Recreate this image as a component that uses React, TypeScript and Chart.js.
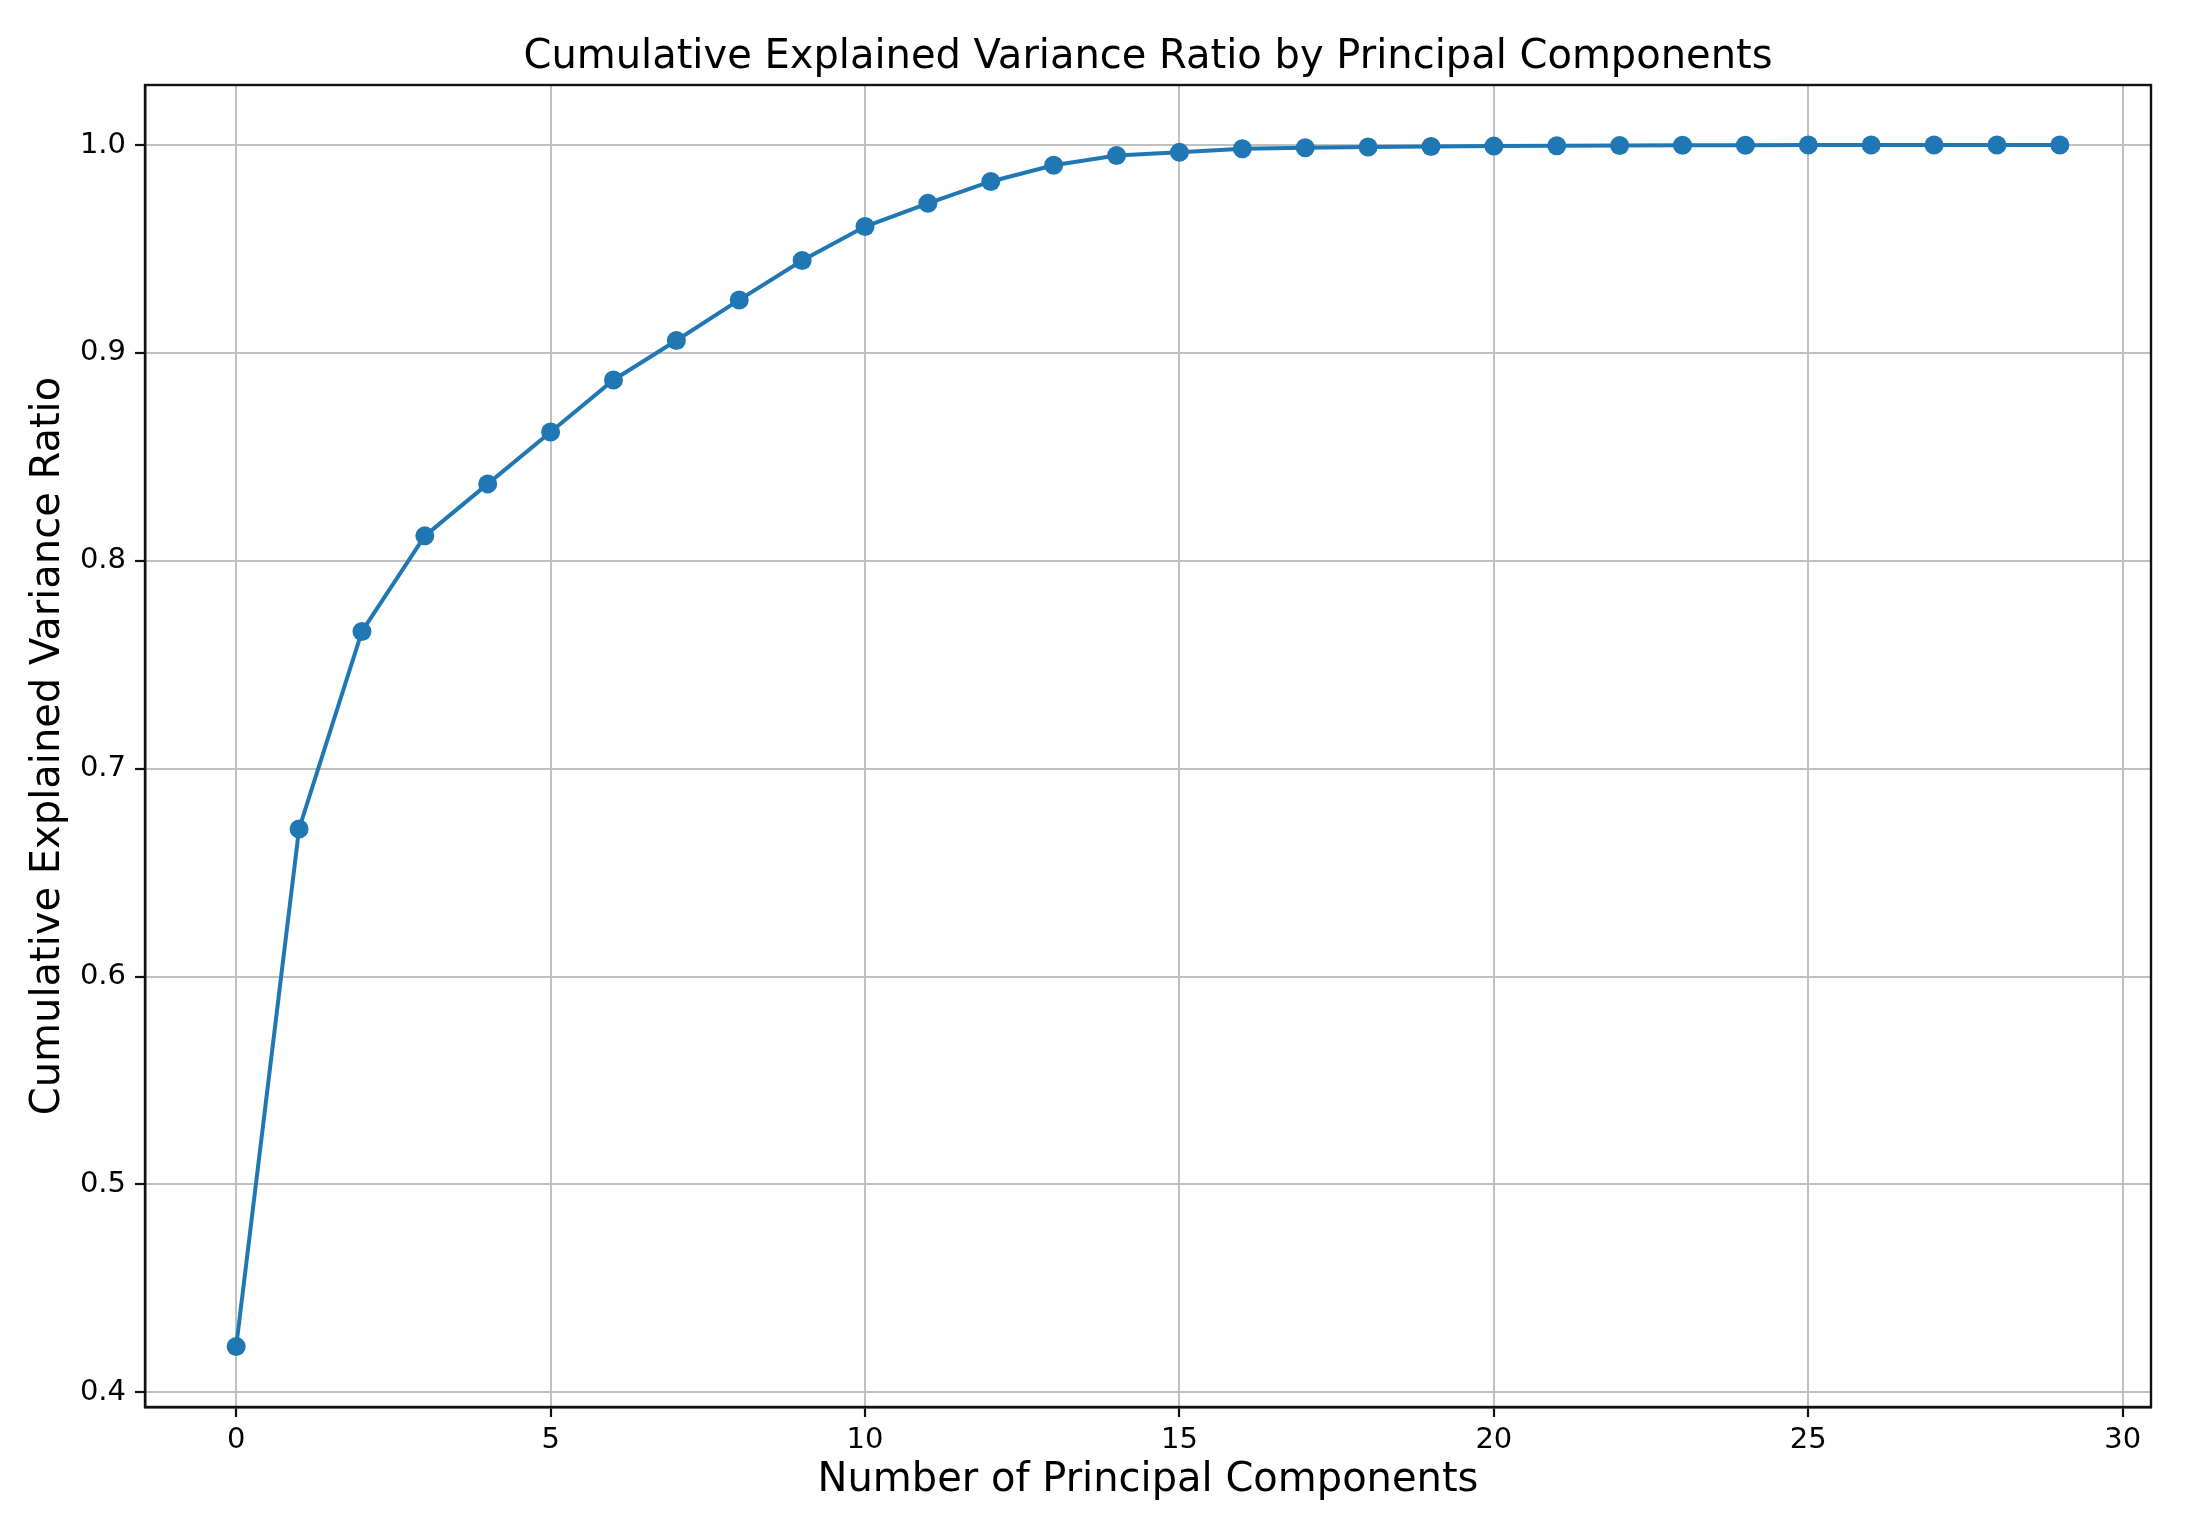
import React, { useEffect, useRef } from "react";
import { Chart, registerables } from "chart.js";

Chart.register(...registerables);

const components: number[] = [0, 1, 2, 3, 4, 5, 6, 7, 8, 9, 10, 11, 12, 13, 14, 15, 16, 17, 18, 19, 20, 21, 22, 23, 24, 25, 26, 27, 28, 29];
const cumulativeVariance: number[] = [
  0.422, 0.671, 0.766, 0.812, 0.837, 0.862, 0.887, 0.906, 0.9255, 0.9445,
  0.9608, 0.972, 0.9825, 0.9903, 0.995, 0.9965, 0.9982, 0.9987, 0.9991, 0.9993,
  0.9995, 0.9997, 0.9998, 0.9999, 0.9999, 1.0, 1.0, 1.0, 1.0, 1.0,
];
const xTicks: number[] = [0, 5, 10, 15, 20, 25, 30];
const yTicks: number[] = [0.4, 0.5, 0.6, 0.7, 0.8, 0.9, 1.0];

const titleText = "Cumulative Explained Variance Ratio by Principal Components";
const xTitle = "Number of Principal Components";
const yTitle = "Cumulative Explained Variance Ratio";

const FONT = "'DejaVu Sans', 'Liberation Sans', sans-serif";

const frame = {
  id: "frame",
  afterDraw(chart: any) {
    const { ctx, chartArea } = chart;
    ctx.save();
    ctx.strokeStyle = "#111";
    ctx.lineWidth = 2.4;
    ctx.strokeRect(chartArea.left, chartArea.top, chartArea.right - chartArea.left, chartArea.bottom - chartArea.top);
    // title centred over the plot area
    ctx.fillStyle = "#000";
    ctx.font = `40px ${FONT}`;
    ctx.textAlign = "center";
    ctx.textBaseline = "alphabetic";
    ctx.fillText(titleText, (chartArea.left + chartArea.right) / 2, chartArea.top - 17);
    ctx.restore();
  },
};

export default function App() {
  const ref = useRef<HTMLCanvasElement | null>(null);

  useEffect(() => {
    if (!ref.current) return;
    Chart.defaults.color = "#000";
    const chart = new Chart(ref.current, {
      type: "line",
      data: {
        datasets: [
          {
            data: components.map((c, i) => ({ x: c, y: cumulativeVariance[i] })),
            borderColor: "#1f77b4",
            backgroundColor: "#1f77b4",
            borderWidth: 4,
            pointRadius: 9.5,
            pointHoverRadius: 9.5,
            pointBorderWidth: 0,
            pointBackgroundColor: "#1f77b4",
            tension: 0,
            fill: false,
          },
        ],
      },
      options: {
        animation: false,
        responsive: true,
        maintainAspectRatio: false,
        layout: { padding: { left: 0, right: 35, top: 85, bottom: 0 } },
        plugins: {
          legend: { display: false },
          tooltip: { enabled: false },
          title: { display: false },
        },
        scales: {
          x: {
            type: "linear",
            min: -1.45,
            max: 30.45,
            afterBuildTicks: (s: any) => {
              s.ticks = xTicks.map((v) => ({ value: v }));
            },
            afterFit: (s: any) => {
              s.height = 113;
            },
            ticks: {
              color: "#000",
              font: { family: FONT, size: 29 },
              padding: 6,
              maxRotation: 0,
              autoSkip: false,
              callback: (v: any) => String(v),
            },
            grid: {
              color: "#c0c0c0",
              lineWidth: 2,
              drawTicks: true,
              tickLength: 10,
              tickColor: "#111",
              tickWidth: 2.2,
            },
            border: { display: true, color: "#111", width: 2.4 },
            title: {
              display: true,
              text: xTitle,
              color: "#000",
              font: { family: FONT, size: 40, lineHeight: 1.2 },
              padding: { top: 0, bottom: 15 },
            },
          },
          y: {
            type: "linear",
            min: 0.3929,
            max: 1.0289,
            afterBuildTicks: (s: any) => {
              s.ticks = yTicks.map((v) => ({ value: v }));
            },
            afterFit: (s: any) => {
              s.width = 145;
            },
            ticks: {
              color: "#000",
              font: { family: FONT, size: 29 },
              padding: 9,
              autoSkip: false,
              callback: (v: any) => Number(v).toFixed(1),
            },
            grid: {
              color: "#c0c0c0",
              lineWidth: 2,
              drawTicks: true,
              tickLength: 10,
              tickColor: "#111",
              tickWidth: 2.2,
            },
            border: { display: true, color: "#111", width: 2.4 },
            title: {
              display: true,
              text: yTitle,
              color: "#000",
              font: { family: FONT, size: 40, lineHeight: 1.2 },
              padding: { top: 25, bottom: 0 },
            },
          },
        },
      },
      plugins: [frame],
    });
    return () => chart.destroy();
  }, []);

  return (
    <div style={{ position: "fixed", left: 0, top: 0, width: 2186, height: 1520, background: "#fff" }}>
      <canvas ref={ref} />
    </div>
  );
}
